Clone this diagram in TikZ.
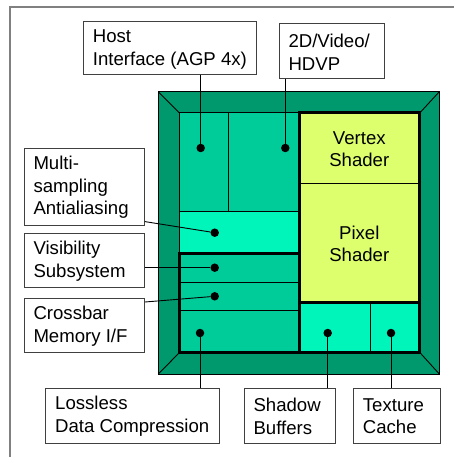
\documentclass[tikz,border=0pt]{standalone}
\usepackage{fontspec}
\setmainfont{Liberation Sans}
\definecolor{bevel}{HTML}{00996E}
\definecolor{blockg}{HTML}{00CC99}
\definecolor{lightg}{HTML}{00F5BB}
\definecolor{shader}{HTML}{DDFF6E}
\definecolor{framegray}{HTML}{808080}
\tikzset{
  lblbox/.style={draw=black!75, line width=0.9pt, fill=white, anchor=north west,
    inner sep=0pt},
  lbltext/.style={anchor=west, align=left, inner sep=0pt,
    font=\fontsize{18.6}{22.5}\selectfont},
  dotn/.style={circle, fill=black, inner sep=0pt, minimum size=8.5pt},
  conn/.style={draw=black, line width=0.9pt},
  thin/.style={draw=black, line width=0.9pt},
  thick3/.style={draw=black, line width=3pt},
  stxt/.style={align=center, font=\fontsize{18.6}{22.5}\selectfont}
}
\begin{document}
\begin{tikzpicture}[x=1pt,y=-1pt]
\useasboundingbox (0,0) rectangle (454,457);
\fill[white] (0,0) rectangle (454,457);
% outer frame
\draw[framegray, line width=1.4pt] (10,457) -- (10,7) -- (454,7);

% chip package with bevelled rim
\filldraw[fill=bevel, thin] (158.3,91.7) rectangle (439.3,374);
\draw[thin] (158.3,91.7) -- (179.3,112.7)
            (439.3,91.7) -- (420,112.7)
            (158.3,374) -- (179.3,352.7)
            (439.3,374) -- (420,352.7);
\filldraw[fill=blockg, thin] (179.3,112.7) rectangle (420,352.7);

% left column of units
\draw[thin] (228.7,112.7) -- (228.7,211.3);
\filldraw[fill=lightg, thin] (179.3,211.3) rectangle (299.3,253.5);
\draw[thin] (179.3,282) -- (299.3,282) (179.3,310) -- (299.3,310);
\draw[thick3] (179.3,253.5) rectangle (299.3,352.7);

% shader block
\filldraw[fill=shader, thin] (299.3,112.7) rectangle (419.3,302.3);
\draw[thin] (299.3,183.3) -- (419.3,183.3);
\filldraw[fill=lightg, thin] (299.3,302.3) rectangle (419.3,352.7);
\draw[thin] (370,302.3) -- (370,352.7);
\draw[thick3] (299.3,302.3) -- (419.3,302.3);
\draw[thick3] (299.3,112.7) rectangle (419.3,352.7);
\node[stxt] (vs) at (359.3,149) {Vertex\\Shader};
\node[stxt] (ps) at (359.3,244) {Pixel\\Shader};

% unit markers
\node[dotn] (dhost) at (200.7,148) {};
\node[dotn] (dvid)  at (285.3,148) {};
\node[dotn] (daa)   at (214.7,232.7) {};
\node[dotn] (dvis)  at (214.7,267.7) {};
\node[dotn] (dxbar) at (214.7,296.3) {};
\node[dotn] (dll)   at (200,333) {};
\node[dotn] (dsh)   at (327.7,333) {};
\node[dotn] (dtc)   at (391,333) {};

% callout boxes
\node[lblbox, minimum width=173.3pt, minimum height=53.3pt] (host) at (82.7,20.7) {};
\node[lblbox, minimum width=104.7pt, minimum height=55.3pt] (vid) at (279.3,22.7) {};
\node[lblbox, minimum width=120pt, minimum height=77.3pt] (aa) at (24,148) {};
\node[lblbox, minimum width=120pt, minimum height=54pt] (vis) at (24,233.3) {};
\node[lblbox, minimum width=120pt, minimum height=54pt] (xbar) at (24,298) {};
\node[lblbox, minimum width=173.4pt, minimum height=54.7pt] (ll) at (45.3,388) {};
\node[lblbox, minimum width=91pt, minimum height=54.7pt] (sh) at (243.7,388) {};
\node[lblbox, minimum width=86.7pt, minimum height=54.7pt] (tc) at (353.3,388) {};

% callout texts
\node[lbltext] (thost) at ([xshift=10pt,yshift=-1.5pt]host.west) {Host\\Interface (AGP 4x)};
\node[lbltext] (tvid)  at ([xshift=9pt,yshift=-1.5pt]vid.west) {2D/Video/\\HDVP};
\node[lbltext] (taa)   at ([xshift=9.3pt,yshift=-0.5pt]aa.west) {Multi-\\sampling\\Antialiasing};
\node[lbltext] (tvis)  at ([xshift=9.3pt,yshift=-0.5pt]vis.west) {Visibility\\Subsystem};
\node[lbltext] (txbar) at ([xshift=9.3pt,yshift=-0.5pt]xbar.west) {Crossbar\\Memory I/F};
\node[lbltext] (tll)   at ([xshift=9.7pt,yshift=-0.5pt]ll.west) {Lossless\\Data Compression};
\node[lbltext] (tsh)   at ([xshift=9.6pt,yshift=-0.5pt]sh.west) {Shadow\\Buffers};
\node[lbltext] (ttc)   at ([xshift=9.4pt,yshift=-0.5pt]tc.west) {Texture\\Cache};

% connectors
\draw[conn] (host.south -| dhost) -- (dhost);
\draw[conn] (vid.south -| dvid) -- (dvid);
\draw[conn] ([yshift=4.6pt]aa.south east) -- (daa);
\draw[conn] (vis.east |- dvis) -- (dvis);
\draw[conn] ([yshift=-4pt]xbar.north east) -- (dxbar);
\draw[conn] (dll) -- (ll.north -| dll);
\draw[conn] (dsh) -- (sh.north -| dsh);
\draw[conn] (dtc) -- (tc.north -| dtc);
\end{tikzpicture}
\end{document}
